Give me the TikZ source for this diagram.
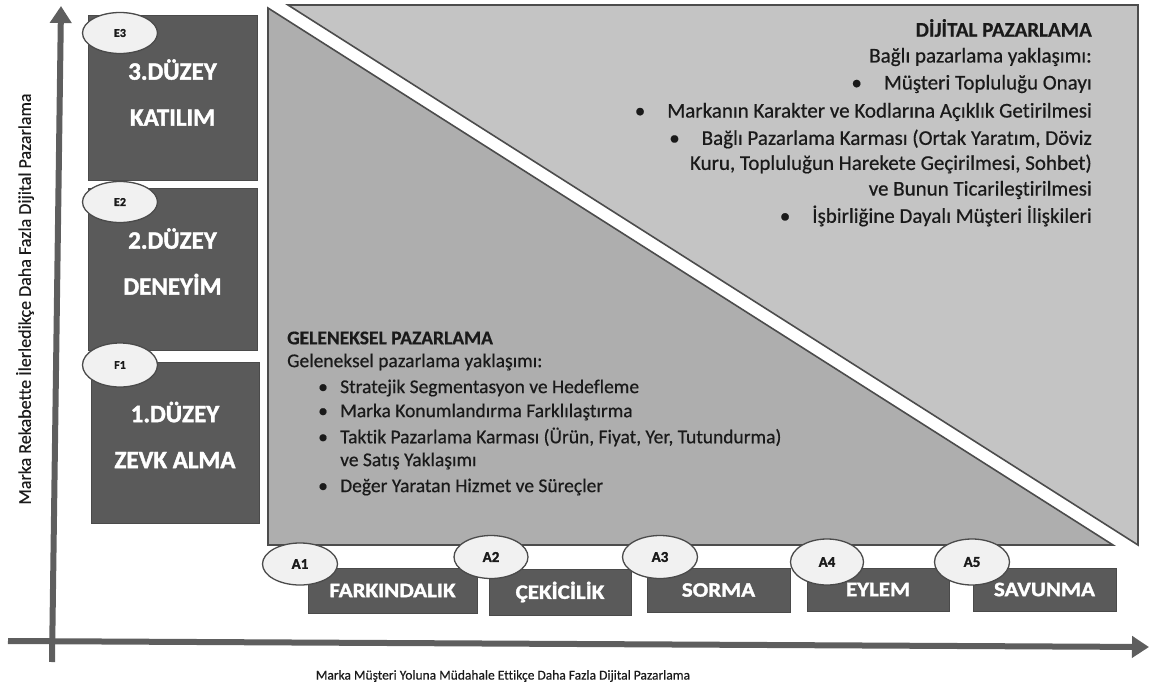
\documentclass[tikz,border=0pt]{standalone}
\usepackage{fontspec}
\setmainfont{Carlito}[Ligatures=NoCommon, FakeBold=0.5]
\newfontfamily\heavyfont{Carlito Bold}[Ligatures=NoCommon, FakeBold=1.6]
\newfontfamily\stagefont{Carlito Bold}[Ligatures=NoCommon, FakeBold=1.6, FakeStretch=1.12]
\usetikzlibrary{arrows.meta,shapes.geometric}

\definecolor{boxdark}{HTML}{5A5A5A}
\definecolor{boxedge}{HTML}{4A4A4A}
\definecolor{zoneup}{HTML}{C4C4C4}
\definecolor{zonelow}{HTML}{AEAEAE}
\definecolor{zoneedge}{HTML}{4C4C4C}
\definecolor{bubble}{HTML}{F1F1F1}
\definecolor{axisgray}{HTML}{5E5E5E}
\definecolor{inktext}{HTML}{1A1A1A}

\begin{document}
\begin{tikzpicture}[x=1pt,y=-1pt,
  levelbox/.style={fill=boxdark, draw=boxedge, line width=0.8pt, inner sep=0pt},
  leveltext/.style={text=white, align=center, inner sep=0pt,
    font=\heavyfont\fontsize{25}{46}\selectfont},
  stagebox/.style={fill=boxdark, draw=boxedge, line width=0.8pt, inner sep=0pt,
    text=white, font=\stagefont\fontsize{20.5}{24}\selectfont},
  bubblenode/.style={ellipse, fill=bubble, draw=boxedge, line width=1.3pt, inner sep=0pt,
    text=inktext},
  ebubble/.style={bubblenode, minimum width=75pt, minimum height=41pt,
    font=\heavyfont\fontsize{12}{14}\selectfont},
  abubble/.style={bubblenode, minimum width=74pt, minimum height=44pt,
    font=\heavyfont\fontsize{15}{17}\selectfont},
  zone/.style={draw=zoneedge, line width=1.6pt, line join=miter},
  bodytext/.style={text=inktext, inner sep=0pt, font=\fontsize{19.5}{24}\selectfont},
  digitext/.style={text=inktext, inner sep=0pt, anchor=east, font=\fontsize{21}{26}\selectfont},
  axisline/.style={draw=axisgray, line width=6pt, -{Triangle[length=17pt,width=21pt]}},
  axislabel/.style={text=inktext, inner sep=0pt}
]
\useasboundingbox (0,0) rectangle (1151,688);

% two marketing zones separated by a white diagonal band
\path[zone, fill=zoneup] (288,5) -- (1138,5) -- (1138,545) -- cycle;
\path[zone, fill=zonelow] (268,8) -- (1113,545) -- (268,545) -- cycle;

% digital marketing text, right aligned
\node[digitext] (dtitle) at (1092,28) {\bfseries DİJİTAL PAZARLAMA};
\node[digitext] (dsub) at (1092,57) {Bağlı pazarlama yaklaşımı:};
\node[digitext] (d1) at (1092,84) {\textbullet\hspace{22pt}Müşteri Topluluğu Onayı};
\node[digitext] (d2) at (1092,112) {\textbullet\hspace{22pt}Markanın Karakter ve Kodlarına Açıklık Getirilmesi};
\node[digitext] (d3) at (1092,139) {\textbullet\hspace{22pt}Bağlı Pazarlama Karması (Ortak Yaratım, Döviz};
\node[digitext] (d3b) at (1092,164) {Kuru, Topluluğun Harekete Geçirilmesi, Sohbet)};
\node[digitext] (d3c) at (1092,190) {ve Bunun Ticarileştirilmesi};
\node[digitext] (d4) at (1092,216) {\textbullet\hspace{22pt}İşbirliğine Dayalı Müşteri İlişkileri};

% traditional marketing text, left aligned
\node[bodytext, anchor=west] (gtitle) at (287,338) {\bfseries GELENEKSEL PAZARLAMA};
\node[bodytext, anchor=west] (gsub) at (287,362) {Geleneksel pazarlama yaklaşımı:};
\node[bodytext, anchor=west] (g1) at (318,388) {\makebox[22pt][l]{\textbullet}Stratejik Segmentasyon ve Hedefleme};
\node[bodytext, anchor=west] (g2) at (318,412) {\makebox[22pt][l]{\textbullet}Marka Konumlandırma Farklılaştırma};
\node[bodytext, anchor=west] (g3) at (318,437) {\makebox[22pt][l]{\textbullet}Taktik Pazarlama Karması (Ürün, Fiyat, Yer, Tutundurma)};
\node[bodytext, anchor=west] (g3b) at (340,461) {ve Satış Yaklaşımı};
\node[bodytext, anchor=west] (g4) at (318,487) {\makebox[22pt][l]{\textbullet}Değer Yaratan Hizmet ve Süreçler};

% engagement levels
\node[levelbox, minimum width=169pt, minimum height=165pt] (lvl3) at (172.5,97.5) {};
\node[leveltext] (lvl3t) at (172.5,92.5) {3.DÜZEY\\KATILIM};
\node[levelbox, minimum width=169pt, minimum height=162pt] (lvl2) at (172.5,269) {};
\node[leveltext] (lvl2t) at (172.5,261.5) {2.DÜZEY\\DENEYİM};
\node[levelbox, minimum width=168pt, minimum height=161pt] (lvl1) at (175,442.5) {};
\node[leveltext] (lvl1t) at (175,435) {1.DÜZEY\\ZEVK ALMA};

\node[ebubble] (e3) at (120,33) {E3};
\node[ebubble] (e2) at (120,202) {E2};
\node[ebubble, minimum height=44pt] (f1) at (120,365) {F1};

% customer path stages
\node[stagebox, minimum width=169pt, minimum height=45pt] (s1) at (392.5,590.5) {FARKINDALIK};
\node[stagebox, minimum width=142pt, minimum height=46pt] (s2) at (560,592) {ÇEKİCİLİK};
\node[stagebox, minimum width=143pt, minimum height=44pt] (s3) at (718.5,590) {SORMA};
\node[stagebox, minimum width=142pt, minimum height=43pt] (s4) at (878,589.5) {EYLEM};
\node[stagebox, minimum width=143pt, minimum height=43pt] (s5) at (1044.5,589.5) {SAVUNMA};

\node[abubble, minimum width=75pt, minimum height=42pt] (a1) at (300,564) {A1};
\node[abubble, minimum height=43pt] (a2) at (491,557) {A2};
\node[abubble, minimum width=75pt, minimum height=43pt] (a3) at (660,557) {A3};
\node[abubble, minimum width=73pt, minimum height=46pt] (a4) at (827,562) {A4};
\node[abubble, minimum width=75pt, minimum height=46pt] (a5) at (972,562) {A5};

% axes
\coordinate (ybase) at (52,662);
\coordinate (ytip) at (61,6);
\coordinate (xbase) at (8,641);
\coordinate (xtip) at (1149,647);
\draw[axisline] (ybase) -- (ytip);
\draw[axisline] (xbase) -- (xtip);

\node[axislabel, rotate=90, font=\fontsize{18}{20}\selectfont] (ylab) at (25,299)
  {Marka Rekabette İlerledikçe Daha Fazla Dijital Pazarlama};
\node[axislabel, font=\fontsize{13.5}{16}\selectfont] (xlab) at (503,676)
  {Marka Müşteri Yoluna Müdahale Ettikçe Daha Fazla Dijital Pazarlama};
\end{tikzpicture}
\end{document}
